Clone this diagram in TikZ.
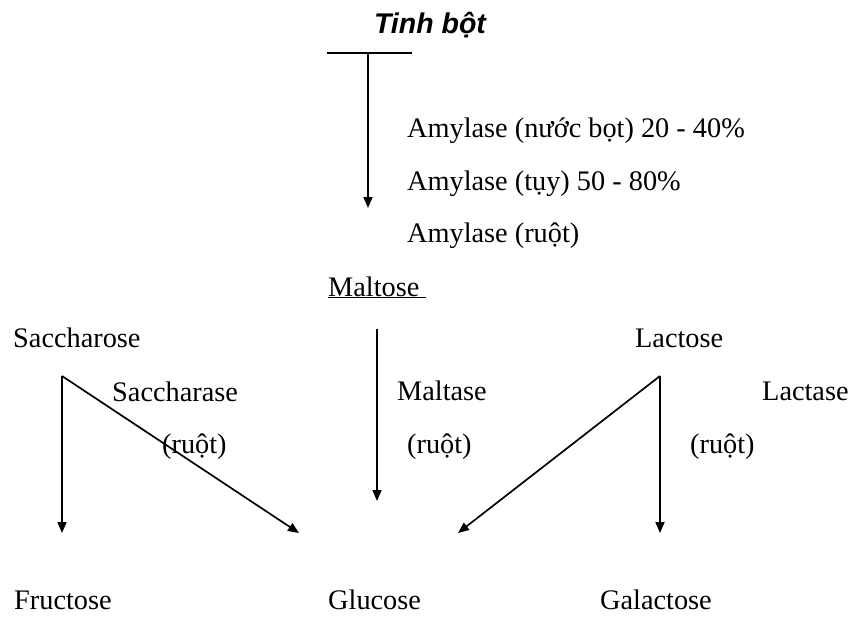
\documentclass[tikz,border=0pt]{standalone}
\usepackage{fontspec}
\setmainfont{Liberation Serif}
\newfontfamily\titlefont{Liberation Sans}
\usetikzlibrary{arrows.meta}
\begin{document}
\begin{tikzpicture}[x=1pt,y=-1pt,
  lbl/.style={anchor=base west,inner sep=0pt,font=\fontsize{28.3}{32}\selectfont},
  conn/.style={line width=1.7pt},
  arr/.style={conn,-{Triangle[length=11pt,width=9pt]}}]
\useasboundingbox (0,0) rectangle (854,616);
% title
\node[anchor=base,inner sep=0pt,font=\titlefont\bfseries\itshape\fontsize{28.5}{32}\selectfont] (tb) at (430,33) {Tinh bột};
\coordinate (barL) at (327,53);
\coordinate (barR) at (412,53);
\coordinate (barM) at (368,53);
\coordinate (barE) at (368,208);
\draw[conn] (barL) -- (barR);
\draw[arr] (barM) -- (barE);
\node[lbl] (am1) at (407,137) {Amylase (nước bọt) 20 - 40\%};
\node[lbl] (am2) at (407,190) {Amylase (tụy) 50 - 80\%};
\node[lbl] (am3) at (407,242) {Amylase (ruột)};
% maltose
\node[lbl] (mal) at (328,296) {\underline{Maltose\ }};
\coordinate (malS) at (377,329);
\coordinate (malE) at (377,501);
\draw[arr] (malS) -- (malE);
\node[lbl] (mtase) at (397,400) {Maltase};
\node[lbl] (mr) at (407,453) {(ruột)};
% saccharose
\node[lbl] (sac) at (13,347) {Saccharose};
\coordinate (sJ) at (62,376);
\coordinate (sF) at (62,533);
\coordinate (sG) at (299,533);
\node[lbl] (sase) at (112,401) {Saccharase};
\node[lbl] (sr) at (162,453) {(ruột)};
\draw[arr] (sJ) -- (sF);
\draw[arr] (sJ) -- (sG);
% lactose
\node[lbl] (lac) at (635,347) {Lactose};
\coordinate (lJ) at (660,376);
\coordinate (lGa) at (660,533);
\coordinate (lG) at (458,533);
\node[lbl] (lase) at (762,400) {Lactase};
\node[lbl] (lr) at (690,453) {(ruột)};
\draw[arr] (lJ) -- (lGa);
\draw[arr] (lJ) -- (lG);
% products
\node[lbl] (fru) at (14,609) {Fructose};
\node[lbl] (glu) at (328,609) {Glucose};
\node[lbl] (gal) at (600,609) {Galactose};
\end{tikzpicture}
\end{document}
